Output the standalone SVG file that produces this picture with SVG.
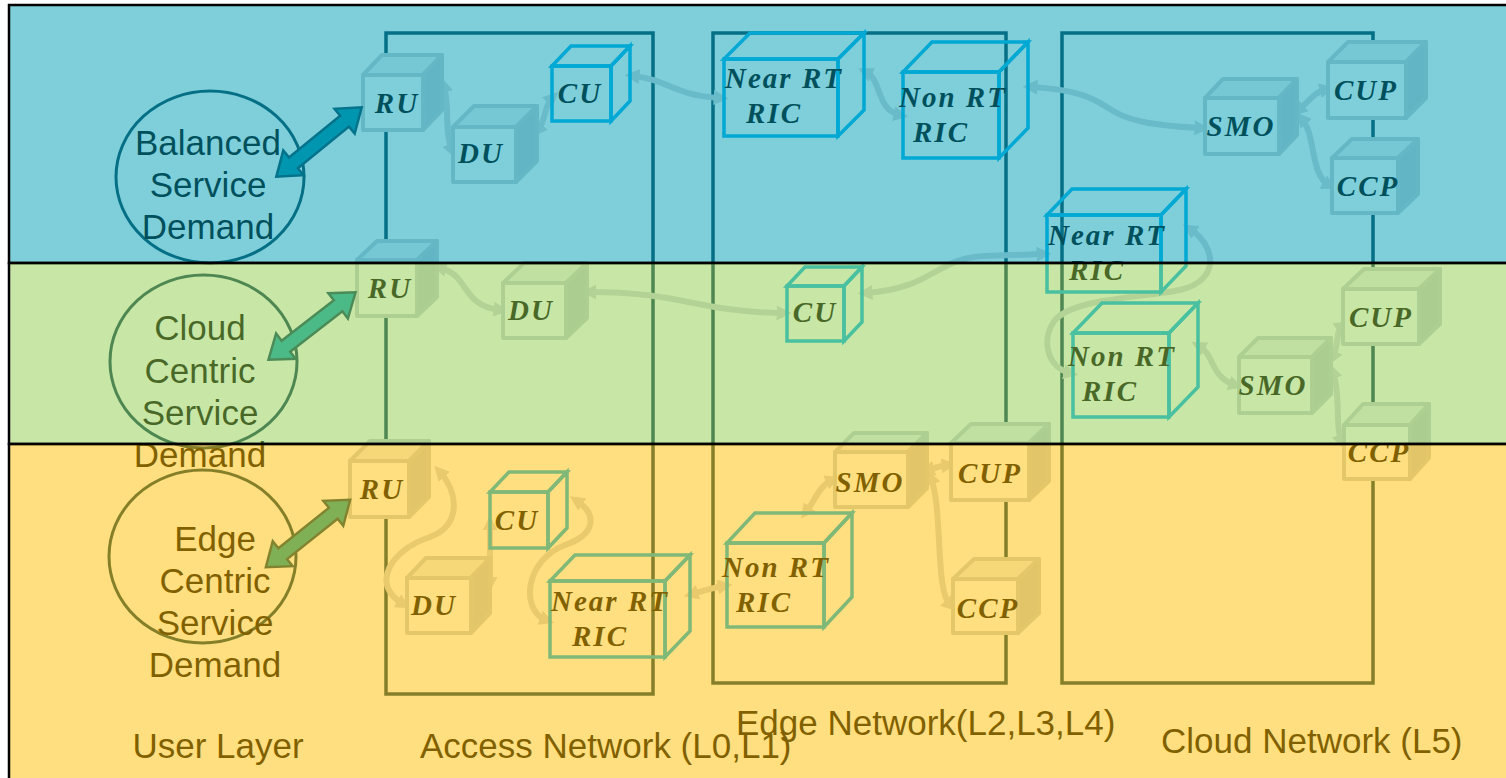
<svg xmlns="http://www.w3.org/2000/svg" width="1506" height="778" viewBox="0 0 1506 778">
  <style>
    .box { fill: none; stroke: #0B3F55; stroke-width: 3.5; }
    .grey .f { fill: #FFFFFF; }
    .grey .t { fill: #EEF1F3; }
    .grey .s { fill: #C4CBD0; }
    .grey rect, .grey polygon { stroke: #C8CED3; stroke-width: 4; stroke-linejoin: round; }
    .blue rect, .blue polygon { fill: none; stroke: #00B0F0; stroke-width: 3.5; stroke-linejoin: miter; }
    .lbl { font-family: "Liberation Serif", "DejaVu Serif", serif; font-style: italic; font-weight: bold; font-size: 29px; letter-spacing: 2px; text-anchor: middle; fill: #000; }
    .ctx { font-family: "Liberation Sans", Arial, sans-serif; font-size: 35px; text-anchor: middle; fill: #000; }
    .cap { font-family: "Liberation Sans", Arial, sans-serif; font-size: 35px; fill: #000; }
    .demand { fill: none; stroke: #0B3F52; stroke-width: 3; }
    .link { fill: none; stroke: #D2D6DA; stroke-width: 6; stroke-linecap: round; marker-start: url(#head); marker-end: url(#head); }
    .big { stroke: #05465F; stroke-width: 2.5; stroke-linejoin: miter; }
    .band { stroke: #000; stroke-width: 2.5; fill-opacity: 0.5; }
  </style>
  <defs>
    <marker id="head" viewBox="0 0 14 14" refX="6" refY="7" markerWidth="15" markerHeight="15" markerUnits="userSpaceOnUse" orient="auto-start-reverse">
      <path d="M0,0 L14,7 L0,14 z" fill="#D2D6DA"/>
    </marker>
    <polygon id="dblarrow" points="-55,0 -33,-16 -33,-7 33,-7 33,-16 55,0 33,16 33,7 -33,7 -33,16"/>
  </defs>

  <rect x="0" y="0" width="1506" height="778" fill="#FFFFFF"/>

  <!-- network tiers -->
  <g id="tiers">
    <rect id="access-network" class="box" x="386" y="33" width="267" height="661"/>
    <rect id="edge-network" class="box" x="713" y="33" width="293" height="650"/>
    <rect id="cloud-network" class="box" x="1062" y="33" width="311" height="650"/>
  </g>

  <!-- connectors -->
  <g id="connectors">
    <!-- balanced -->
    <path class="link" d="M444,86 C450,108 444,130 452,150"/>
    <path class="link" d="M538,130 C546,120 544,106 552,98"/>
    <path class="link" d="M633,76 C670,80 672,95 720,98"/>
    <path class="link" d="M866,72 C882,80 876,110 900,115"/>
    <path class="link" d="M1031,87 C1090,90 1100,104 1115,112 C1132,122 1160,126 1201,128"/>
    <path class="link" d="M1299,110 C1310,100 1315,92 1326,89"/>
    <path class="link" d="M1302,119 C1316,135 1310,175 1329,185"/>
    <!-- cloud centric -->
    <path class="link" d="M440,268 C470,275 460,305 500,310"/>
    <path class="link" d="M590,292 C680,292 700,312 783,313"/>
    <path class="link" d="M866,293 C935,288 935,258 985,256 L1043,254"/>
    <path class="link" d="M1190,229 C1215,245 1222,280 1180,290 C1140,298 1075,298 1055,320 C1040,340 1048,368 1070,373"/>
    <path class="link" d="M1199,346 C1215,355 1210,377 1235,385"/>
    <path class="link" d="M1333,357 C1339,345 1336,330 1342,326"/>
    <path class="link" d="M1333,372 C1341,395 1335,425 1341,441"/>
    <!-- edge centric -->
    <path class="link" d="M440,472 C458,492 462,525 430,537 C390,550 370,585 403,604"/>
    <path class="link" d="M490,583 L490,524"/>
    <path class="link" d="M577,501 C598,515 595,535 565,545 C525,560 520,610 546,620"/>
    <path class="link" d="M692,594 C705,590 712,588 724,586"/>
    <path class="link" d="M806,512 C815,500 820,485 832,480"/>
    <path class="link" d="M928,470 C935,468 940,466 948,465"/>
    <path class="link" d="M931,478 C943,510 935,590 950,605"/>
  </g>

  <!-- balanced service demand tier -->
  <g id="ru-1" class="grey">
    <rect class="f" x="363" y="75" width="60" height="55"/>
    <polygon class="t" points="363,75 382,55 442,55 423,75"/>
    <polygon class="s" points="423,75 442,55 442,110 423,130"/>
    <text class="lbl" x="397" y="113">RU</text>
  </g>
  <g id="du-1" class="grey">
    <rect class="f" x="453" y="127" width="63" height="55"/>
    <polygon class="t" points="453,127 474,106 537,106 516,127"/>
    <polygon class="s" points="516,127 537,106 537,161 516,182"/>
    <text class="lbl" x="481" y="163">DU</text>
  </g>
  <g id="cu-1" class="blue">
    <rect x="552" y="66" width="59" height="55"/>
    <polygon points="552,66 571,46 630,46 611,66"/>
    <polygon points="611,66 630,46 630,101 611,121"/>
    <text class="lbl" x="580" y="103">CU</text>
  </g>
  <g id="near-rt-ric-1" class="blue">
    <rect x="724" y="59" width="114" height="77"/>
    <polygon points="724,59 750,33 864,33 838,59"/>
    <polygon points="838,59 864,33 864,110 838,136"/>
    <text class="lbl" x="784" y="88">Near RT</text>
    <text class="lbl" x="774" y="123">RIC</text>
  </g>
  <g id="non-rt-ric-1" class="blue">
    <rect x="903" y="72" width="96" height="86"/>
    <polygon points="903,72 932,42 1028,42 999,72"/>
    <polygon points="999,72 1028,42 1028,128 999,158"/>
    <text class="lbl" x="953" y="107">Non RT</text>
    <text class="lbl" x="941" y="142">RIC</text>
  </g>
  <g id="smo-1" class="grey">
    <rect class="f" x="1205" y="98" width="74" height="56"/>
    <polygon class="t" points="1205,98 1223,79 1297,79 1279,98"/>
    <polygon class="s" points="1279,98 1297,79 1297,135 1279,154"/>
    <text class="lbl" x="1241" y="136">SMO</text>
  </g>
  <g id="cup-1" class="grey">
    <rect class="f" x="1328" y="62" width="78" height="56"/>
    <polygon class="t" points="1328,62 1348,42 1426,42 1406,62"/>
    <polygon class="s" points="1406,62 1426,42 1426,98 1406,118"/>
    <text class="lbl" x="1366" y="100">CUP</text>
  </g>
  <g id="ccp-1" class="grey">
    <rect class="f" x="1332" y="158" width="66" height="55"/>
    <polygon class="t" points="1332,158 1352,139 1418,139 1398,158"/>
    <polygon class="s" points="1398,158 1418,139 1418,194 1398,213"/>
    <text class="lbl" x="1368" y="196">CCP</text>
  </g>

  <!-- cloud centric service demand tier -->
  <g id="ru-2" class="grey">
    <rect class="f" x="357" y="260" width="60" height="56"/>
    <polygon class="t" points="357,260 377,241 437,241 417,260"/>
    <polygon class="s" points="417,260 437,241 437,297 417,316"/>
    <text class="lbl" x="390" y="298">RU</text>
  </g>
  <g id="du-2" class="grey">
    <rect class="f" x="503" y="283" width="63" height="55"/>
    <polygon class="t" points="503,283 524,263 587,263 566,283"/>
    <polygon class="s" points="566,283 587,263 587,318 566,338"/>
    <text class="lbl" x="531" y="320">DU</text>
  </g>
  <g id="cu-2" class="blue">
    <rect x="787" y="286" width="57" height="55"/>
    <polygon points="787,286 805,267 862,267 844,286"/>
    <polygon points="844,286 862,267 862,322 844,341"/>
    <text class="lbl" x="815" y="322">CU</text>
  </g>
  <g id="near-rt-ric-2" class="blue">
    <rect x="1047" y="215" width="114" height="77"/>
    <polygon points="1047,215 1072,189 1186,189 1161,215"/>
    <polygon points="1161,215 1186,189 1186,266 1161,292"/>
    <text class="lbl" x="1107" y="245">Near RT</text>
    <text class="lbl" x="1097" y="280">RIC</text>
  </g>
  <g id="non-rt-ric-2" class="blue">
    <rect x="1073" y="333" width="96" height="84"/>
    <polygon points="1073,333 1102,303 1198,303 1169,333"/>
    <polygon points="1169,333 1198,303 1198,387 1169,417"/>
    <text class="lbl" x="1122" y="366">Non RT</text>
    <text class="lbl" x="1110" y="401">RIC</text>
  </g>
  <g id="smo-2" class="grey">
    <rect class="f" x="1239" y="357" width="73" height="56"/>
    <polygon class="t" points="1239,357 1258,338 1331,338 1312,357"/>
    <polygon class="s" points="1312,357 1331,338 1331,394 1312,413"/>
    <text class="lbl" x="1273" y="395">SMO</text>
  </g>
  <g id="cup-2" class="grey">
    <rect class="f" x="1343" y="289" width="76" height="55"/>
    <polygon class="t" points="1343,289 1364,269 1440,269 1419,289"/>
    <polygon class="s" points="1419,289 1440,269 1440,324 1419,344"/>
    <text class="lbl" x="1381" y="327">CUP</text>
  </g>
  <g id="ccp-2" class="grey">
    <rect class="f" x="1344" y="425" width="66" height="54"/>
    <polygon class="t" points="1344,425 1363,404 1429,404 1410,425"/>
    <polygon class="s" points="1410,425 1429,404 1429,458 1410,479"/>
    <text class="lbl" x="1379" y="462">CCP</text>
  </g>

  <!-- edge centric service demand tier -->
  <g id="ru-3" class="grey">
    <rect class="f" x="350" y="461" width="59" height="56"/>
    <polygon class="t" points="350,461 370,441 429,441 409,461"/>
    <polygon class="s" points="409,461 429,441 429,497 409,517"/>
    <text class="lbl" x="382" y="499">RU</text>
  </g>
  <g id="du-3" class="grey">
    <rect class="f" x="407" y="578" width="64" height="55"/>
    <polygon class="t" points="407,578 426,558 490,558 471,578"/>
    <polygon class="s" points="471,578 490,558 490,613 471,633"/>
    <text class="lbl" x="434" y="615">DU</text>
  </g>
  <g id="cu-3" class="blue">
    <rect x="490" y="492" width="58" height="56"/>
    <polygon points="490,492 509,472 567,472 548,492"/>
    <polygon points="548,492 567,472 567,528 548,548"/>
    <text class="lbl" x="517" y="530">CU</text>
  </g>
  <g id="near-rt-ric-3" class="blue">
    <rect x="550" y="581" width="115" height="76"/>
    <polygon points="550,581 575,555 690,555 665,581"/>
    <polygon points="665,581 690,555 690,631 665,657"/>
    <text class="lbl" x="610" y="611">Near RT</text>
    <text class="lbl" x="600" y="646">RIC</text>
  </g>
  <g id="non-rt-ric-3" class="blue">
    <rect x="727" y="543" width="97" height="84"/>
    <polygon points="727,543 755,513 852,513 824,543"/>
    <polygon points="824,543 852,513 852,597 824,627"/>
    <text class="lbl" x="776" y="577">Non RT</text>
    <text class="lbl" x="764" y="612">RIC</text>
  </g>
  <g id="smo-3" class="grey">
    <rect class="f" x="835" y="452" width="73" height="55"/>
    <polygon class="t" points="835,452 854,433 927,433 908,452"/>
    <polygon class="s" points="908,452 927,433 927,488 908,507"/>
    <text class="lbl" x="870" y="492">SMO</text>
  </g>
  <g id="cup-3" class="grey">
    <rect class="f" x="951" y="443" width="78" height="57"/>
    <polygon class="t" points="951,443 971,424 1049,424 1029,443"/>
    <polygon class="s" points="1029,443 1049,424 1049,481 1029,500"/>
    <text class="lbl" x="990" y="483">CUP</text>
  </g>
  <g id="ccp-3" class="grey">
    <rect class="f" x="953" y="579" width="65" height="54"/>
    <polygon class="t" points="953,579 974,559 1039,559 1018,579"/>
    <polygon class="s" points="1018,579 1039,559 1039,613 1018,633"/>
    <text class="lbl" x="988" y="618">CCP</text>
  </g>

  <!-- service demands -->
  <g id="balanced-demand">
    <ellipse class="demand" cx="210" cy="177" rx="94" ry="86"/>
    <text class="ctx" x="208" y="155">Balanced</text>
    <text class="ctx" x="208" y="197">Service</text>
    <text class="ctx" x="208" y="239">Demand</text>
  </g>
  <g id="cloud-demand">
    <ellipse class="demand" cx="203.5" cy="361.5" rx="93.5" ry="86.5"/>
    <text class="ctx" x="200" y="340">Cloud</text>
    <text class="ctx" x="200" y="383">Centric</text>
    <text class="ctx" x="200" y="425">Service</text>
    <text class="ctx" x="200" y="467">Demand</text>
  </g>
  <g id="edge-demand">
    <ellipse class="demand" cx="202.5" cy="556.5" rx="93.5" ry="86.5"/>
    <text class="ctx" x="215" y="551">Edge</text>
    <text class="ctx" x="215" y="593">Centric</text>
    <text class="ctx" x="215" y="635">Service</text>
    <text class="ctx" x="215" y="677">Demand</text>
  </g>

  <!-- demand to RU links -->
  <g id="demand-links">
    <use href="#dblarrow" class="big" fill="#008DA7" transform="translate(319,142) rotate(-39.1)"/>
    <use href="#dblarrow" class="big" fill="#05A5BD" transform="translate(312,326) rotate(-37.7)"/>
    <use href="#dblarrow" class="big" fill="#00A1AA" transform="translate(308,533.5) rotate(-38.6) scale(0.98,1)"/>
  </g>

  <!-- tier captions -->
  <g id="captions">
    <text class="ctx" x="218" y="758">User Layer</text>
    <text class="cap" x="420" y="758">Access Network (L0,L1)</text>
    <text class="cap" x="736" y="735">Edge Network(L2,L3,L4)</text>
    <text class="cap" x="1161" y="753">Cloud Network (L5)</text>
  </g>

  <!-- demand bands -->
  <g id="bands">
    <rect class="band" x="9" y="5" width="1520" height="258" fill="#00A0B8"/>
    <rect class="band" x="9" y="263" width="1520" height="181" fill="#92D050"/>
    <rect class="band" x="9" y="444" width="1520" height="350" fill="#FFC000"/>
  </g>
</svg>
